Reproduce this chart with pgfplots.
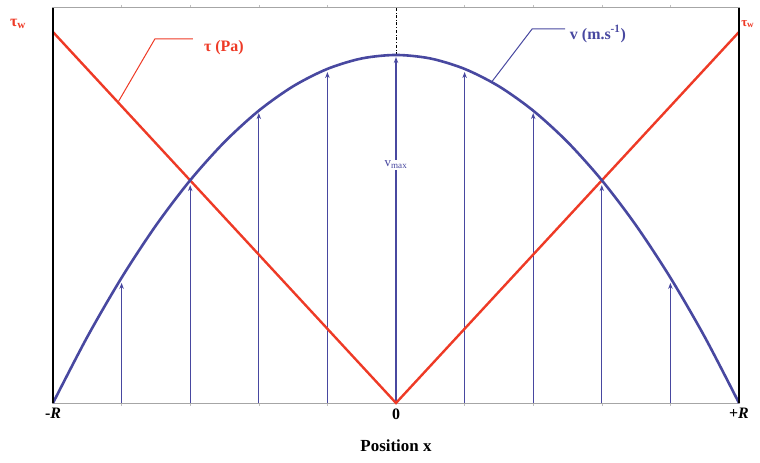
\documentclass[border=0pt]{standalone}
\usepackage{pgfplots}
\pgfplotsset{compat=1.18}
\usepackage{fontspec}
\setmainfont{Liberation Serif}
\usetikzlibrary{arrows.meta}
\definecolor{vblue}{RGB}{72,72,160}
\definecolor{tred}{RGB}{238,58,38}
\begin{document}
\begin{tikzpicture}
\begin{axis}[
  scale only axis, width=686bp, height=395bp,
  xmin=-1, xmax=1, ymin=0, ymax=1.135,
  clip=false,
  axis line style={gray!70, line width=1bp},
  xtick={-1,0,1}, xticklabels={-\textit{R},0,+\textit{R}},
  minor xtick={-0.8,-0.6,-0.4,-0.2,0.2,0.4,0.6,0.8},
  ytick=\empty,
  tick align=outside, major tick length=0bp, minor tick length=3bp,
  every tick/.style={gray!50, thin},
  xticklabel style={font=\fontsize{16}{16}\selectfont\bfseries, yshift=-2bp},
  xlabel={Position x}, xlabel style={font=\fontsize{17}{17}\selectfont\bfseries, yshift=-14bp},
]
\coordinate (bbA) at (rel axis cs:0,0);
\coordinate (bbB) at (rel axis cs:1,1);
% velocity arrows
\addplot[vblue, line width=1.1bp, -{Stealth[length=6bp,width=4.5bp]},
  quiver={u=\thisrow{u}, v=\thisrow{v}}] table {
x y u v
-0.8 0 0 0.345
-0.6 0 0 0.626
-0.4 0 0 0.833
-0.2 0 0 0.951
0 0 0 0.994
0.2 0 0 0.951
0.4 0 0 0.833
0.6 0 0 0.626
0.8 0 0 0.345
};
% dash-dot centre line
\addplot[black, thin, dash dot] coordinates {(0,1) (0,1.135)};
% shear stress
\addplot[tred, line width=2.4bp] coordinates {(-1,1.066) (0,0) (1,1.066)};
% velocity profile
\addplot[vblue, line width=2.6bp, smooth] coordinates {
(-1,0) (-0.9,0.19) (-0.8,0.36) (-0.7,0.51) (-0.6,0.64) (-0.5,0.75) (-0.4,0.84)
(-0.3,0.91) (-0.2,0.96) (-0.1,0.99) (0,1) (0.1,0.99) (0.2,0.96) (0.3,0.91)
(0.4,0.84) (0.5,0.75) (0.6,0.64) (0.7,0.51) (0.8,0.36) (0.9,0.19) (1,0)};
% walls
\draw[black, line width=2.6bp] (rel axis cs:0,0) -- (rel axis cs:0,1);
\draw[black, line width=2.6bp] (rel axis cs:1,0) -- (rel axis cs:1,1);
% vmax label
\node[fill=white, inner sep=1bp, text=vblue, font=\fontsize{13}{13}\selectfont] at (axis cs:0,0.684) {v\textsubscript{max}};
% leaders and labels
\draw[tred, line width=1bp] (axis cs:-0.810,0.865) -- (axis cs:-0.703,1.046) -- (axis cs:-0.592,1.046);
\node[anchor=west, text=tred, font=\fontsize{16}{16}\selectfont\bfseries] at (axis cs:-0.570,1.020) {τ (Pa)};
\draw[vblue, line width=1bp] (axis cs:0.277,0.920) -- (axis cs:0.397,1.075) -- (axis cs:0.493,1.075);
\node[anchor=west, text=vblue, font=\fontsize{16}{16}\selectfont\bfseries] at (axis cs:0.497,1.060) {v (m.s\textsuperscript{-1})};
\node[text=tred, font=\fontsize{16}{16}\selectfont\bfseries] at (axis cs:-1.102,1.089) {τ\textsubscript{w}};
\node[text=tred, font=\fontsize{13}{13}\selectfont\bfseries, anchor=west, inner sep=0pt] at (axis cs:1.006,1.089) {τ\textsubscript{w}};
\end{axis}
\pgfresetboundingbox
\path[use as bounding box] ([shift={(-53bp,-60bp)}]bbA) rectangle ([shift={(21bp,8bp)}]bbB);
\end{tikzpicture}
\end{document}
